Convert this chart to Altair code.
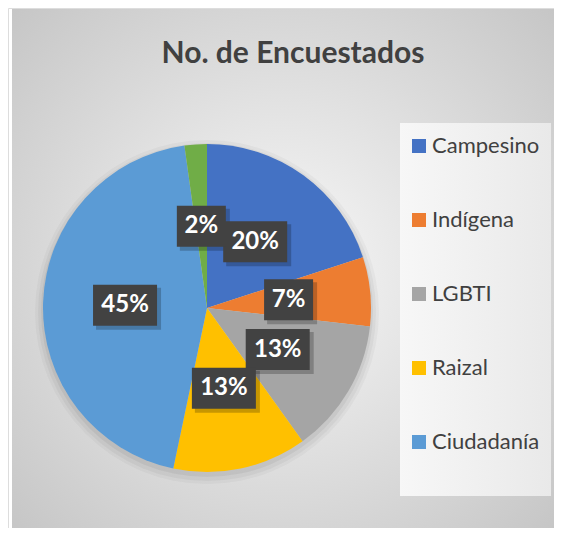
import altair as alt
import pandas as pd

# ---- data ----
categories = ["Campesino", "Indígena", "LGBTI", "Raizal", "Ciudadanía", "Otro"]
values = [20.0, 6.8, 13.3, 13.2, 44.5, 2.2]
pct_labels = ["20%", "7%", "13%", "13%", "45%", "2%"]
colors = ["#4472C4", "#ED7D31", "#A5A5A5", "#FFC000", "#5B9BD5", "#70AD47"]
legend_items = categories[:5]
title_text = "No. de Encuestados"

df = pd.DataFrame({"cat": categories, "val": values, "lab": pct_labels,
                   "idx": list(range(len(categories)))})

W, H = 546, 520
CX, CY, R = 199, 300, 164
LR = 82  # label radius

one = alt.Data(values=[{}])

bg = alt.Chart(one).mark_rect(
    fill=alt.RadialGradient(gradient="radial", x1=0.5, y1=0.5, r1=0, x2=0.5, y2=0.5, r2=0.72,
                            stops=[alt.GradientStop(offset=0, color="#f8f8f8"),
                                   alt.GradientStop(offset=1, color="#c4c4c4")])
).encode(x=alt.value(4), x2=alt.value(W), y=alt.value(1), y2=alt.value(H))

legend_box = alt.Chart(one).mark_rect(
    fill=alt.LinearGradient(gradient="linear", x1=0, y1=0, x2=1, y2=0,
                            stops=[alt.GradientStop(offset=0, color="#f7f7f7"),
                                   alt.GradientStop(offset=1, color="#e9e9e9")])
).encode(x=alt.value(392), x2=alt.value(543), y=alt.value(115), y2=alt.value(488))

shadows = [
    alt.Chart(one).mark_circle(color="black", opacity=op, size=(2 * r) ** 2).encode(
        x=alt.value(CX), y=alt.value(CY + dy))
    for r, dy, op in [(172, 4, 0.03), (169, 4, 0.04), (166, 3, 0.05)]
]

base = alt.Chart(df)

pie = base.mark_arc(outerRadius=R).encode(
    theta=alt.Theta("val:Q", stack=True),
    order=alt.Order("idx:Q"),
    color=alt.Color("cat:N", scale=alt.Scale(domain=categories, range=colors),
                    legend=alt.Legend(values=legend_items, title=None, orient="none",
                                      legendX=400, legendY=127, symbolType="square",
                                      symbolSize=196, symbolStrokeWidth=0, symbolOpacity=1,
                                      labelFontSize=22, labelFont="Lato", labelColor="#404040",
                                      rowPadding=52, labelOffset=2, padding=0)),
    x=alt.value(CX), y=alt.value(CY),
)

lab = base.transform_window(
    cum="sum(val)", sort=[alt.SortField("idx")], frame=[None, 0]
).transform_joinaggregate(total="sum(val)").transform_calculate(
    mid="(datum.cum - datum.val/2)/datum.total*2*PI",
    lx=f"{CX} + {LR}*sin(datum.mid)",
    ly=f"{CY} - {LR}*cos(datum.mid)",
    bw="length(datum.lab) == 2 ? 49 : 64",
    x0="datum.lx - datum.bw/2", x1="datum.lx + datum.bw/2",
    y0="datum.ly - 20.5", y1="datum.ly + 20.5",
    sx0="datum.x0 + 3", sx1="datum.x1 + 4", sy0="datum.y0 + 3", sy1="datum.y1 + 4",
)

box_shadow = lab.mark_rect(color="black", opacity=0.22).encode(
    x=alt.X("sx0:Q", scale=None), x2="sx1:Q",
    y=alt.Y("sy0:Q", scale=None), y2="sy1:Q")
box = lab.mark_rect(color="#424242").encode(
    x=alt.X("x0:Q", scale=None), x2="x1:Q",
    y=alt.Y("y0:Q", scale=None), y2="y1:Q")
txt = lab.mark_text(color="white", font="Lato", fontWeight="bold", fontSize=24,
                    baseline="middle", align="center").encode(
    x=alt.X("lx:Q", scale=None), y=alt.Y("ly:Q", scale=None), text="lab:N")

title = alt.Chart(alt.Data(values=[{"t": title_text}])).mark_text(
    font="Lato", fontWeight="bold", fontSize=30, color="#404040",
    align="center", baseline="alphabetic").encode(
    x=alt.value(285), y=alt.value(55), text="t:N")

chart = alt.layer(bg, legend_box, *shadows, pie, box_shadow, box, txt, title).properties(
    width=W, height=H, padding=0, autosize=alt.AutoSizeParams(type="none")
).configure_view(stroke=None).configure(background="white")

chart.save("out.html", embed_options={"renderer": "svg", "actions": False})
